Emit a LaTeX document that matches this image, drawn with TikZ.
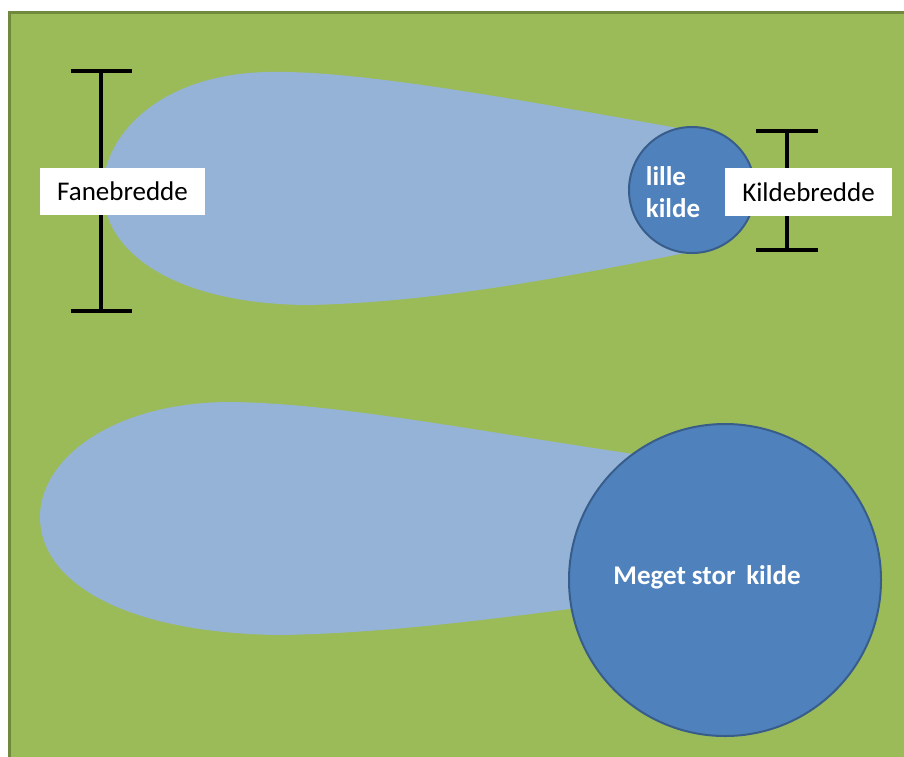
\documentclass[tikz,border=0pt]{standalone}
\usepackage{fontspec}
\setmainfont{Carlito}
\begin{document}
\begin{tikzpicture}[x=1pt,y=-1pt,
  plume/.style={fill=plumeblue,draw=none},
  source/.style={circle,fill=srcblue,draw=srcedge,line width=2pt,inner sep=0pt},
  bar/.style={line width=4.5pt,black},
  lbl/.style={fill=white,inner sep=0pt,font=\fontsize{27}{32}\selectfont},
  srctext/.style={text=white,font=\fontsize{27}{32}\selectfont\bfseries,align=left,inner sep=0pt}]
\definecolor{bggreen}{HTML}{9BBB59}
\definecolor{bgedge}{HTML}{71893F}
\definecolor{plumeblue}{HTML}{95B3D7}
\definecolor{srcblue}{HTML}{4F81BD}
\definecolor{srcedge}{HTML}{385D8A}
\useasboundingbox (0,0) rectangle (904,756);
\clip (0,0) rectangle (904,756);
\fill[white] (0,0) rectangle (904,756);
\draw[fill=bggreen,draw=bgedge,line width=3pt] (9,12) rectangle (920,770);
% top plume
\fill[plume] (700,132) .. controls (520,100) and (360,70) .. (268,72)
  .. controls (160,74) and (103,135) .. (103,190)
  .. controls (103,250) and (170,303) .. (305,305)
  .. controls (440,303) and (590,272) .. (700,250) -- cycle;
% bottom plume
\fill[plume] (640,455) .. controls (470,430) and (330,402) .. (225,402)
  .. controls (110,404) and (40,460) .. (40,517)
  .. controls (40,580) and (120,633) .. (280,635)
  .. controls (400,633) and (520,615) .. (640,600) -- cycle;
% sources
\node[source,minimum size=126pt] (small) at (692,190) {};
\node[srctext] (smalltxt) at (673,192) {lille\\kilde};
\node[source,minimum size=312pt] (big) at (725,580) {};
\node[srctext] (bigtxt) at (707,577) {Meget stor\, kilde};
% bars
\coordinate (f1) at (101,71); \coordinate (f2) at (101,311);
\draw[bar] (f1) -- (f2);
\draw[bar] (71,71) -- (132,71);
\draw[bar] (71,311) -- (132,311);
\coordinate (k1) at (787,131); \coordinate (k2) at (787,250);
\draw[bar] (k1) -- (k2);
\draw[bar] (756,131) -- (818,131);
\draw[bar] (756,250) -- (818,250);
% labels
\node[lbl,minimum width=165pt,minimum height=47pt] (fane) at (122.5,191.5) {Fanebredde};
\node[lbl,minimum width=167pt,minimum height=48pt] (kilde) at (808.5,192) {Kildebredde};
\end{tikzpicture}
\end{document}
